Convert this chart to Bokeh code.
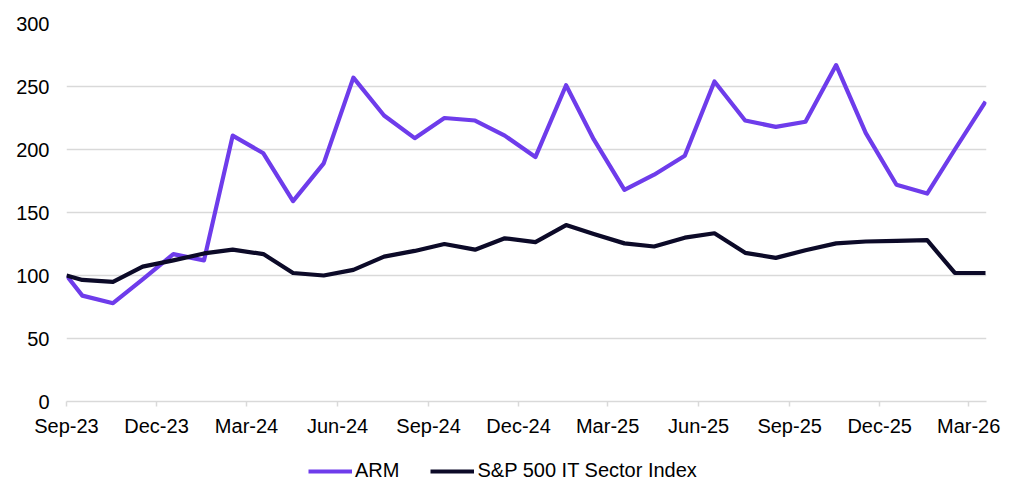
from datetime import datetime
from bokeh.plotting import figure
from bokeh.layouts import column
from bokeh.models import (Legend, LegendItem, FixedTicker, DatetimeTickFormatter,
                          Range1d, ColumnDataSource)
from bokeh.embed import file_html
from bokeh.resources import INLINE

dates = ["2023-09-14", "2023-09-30", "2023-10-31", "2023-11-30", "2023-12-31",
         "2024-01-31", "2024-02-29", "2024-03-31", "2024-04-30", "2024-05-31",
         "2024-06-30", "2024-07-31", "2024-08-31", "2024-09-30", "2024-10-31",
         "2024-11-30", "2024-12-31", "2025-01-31", "2025-02-28", "2025-03-31",
         "2025-04-30", "2025-05-31", "2025-06-30", "2025-07-31", "2025-08-31",
         "2025-09-30", "2025-10-31", "2025-11-30", "2025-12-31", "2026-01-31",
         "2026-02-28", "2026-03-31"]
arm = [100, 84, 78, 97, 117, 112, 211, 197, 159, 189,
       257, 227, 209, 225, 223, 211, 194, 251, 208, 168,
       180, 195, 254, 223, 218, 222, 267, 213, 172, 165,
       200, 238]
spx_it = [100, 96.5, 95, 107, 112, 117.5, 120.5, 117, 102, 100,
          104.5, 115, 119.5, 125, 120.5, 129.5, 126.5, 140, 133, 125.5,
          123, 130, 133.5, 118, 114, 120, 125.5, 127, 127.5, 128,
          102, 102]
tick_dates = ["2023-09-14", "2023-12-14", "2024-03-14", "2024-06-14", "2024-09-14",
              "2024-12-14", "2025-03-14", "2025-06-14", "2025-09-14", "2025-12-14",
              "2026-03-14"]
y_ticks = [0, 50, 100, 150, 200, 250, 300]
series_names = ["ARM", "S&P 500 IT Sector Index"]
colors = ["#6E3CEB", "#0C0A28"]

x = [datetime.strptime(d, "%Y-%m-%d") for d in dates]
src = ColumnDataSource(dict(x=x, arm=arm, spx=spx_it))

def ms(d):
    return datetime.strptime(d, "%Y-%m-%d").timestamp() * 1000.0

FONT = "Liberation Sans"
FS = "20px"
LW = 4.2
x_start, x_end = ms("2023-09-14"), ms("2026-04-01")

p = figure(width=1009, height=440, output_backend="svg", toolbar_location=None,
           x_axis_type="datetime",
           x_range=Range1d(x_start, x_end),
           y_range=Range1d(0, 300),
           min_border_left=66, min_border_right=23, min_border_top=23,
           min_border_bottom=39)
p.outline_line_color = None
p.background_fill_color = "white"
p.border_fill_color = "white"

p.line("x", "arm", source=src, line_color=colors[0], line_width=LW,
       line_join="round")
p.line("x", "spx", source=src, line_color=colors[1], line_width=LW,
       line_join="round")

# x axis
xa = p.xaxis[0]
xa.ticker = FixedTicker(ticks=[ms(d) for d in tick_dates])
fmt = "%b-%y"
xa.formatter = DatetimeTickFormatter(milliseconds=fmt, seconds=fmt, minsec=fmt,
                                     minutes=fmt, hourmin=fmt, hours=fmt, days=fmt,
                                     months=fmt, years=fmt)
xa.axis_line_color = "#D9D9D9"
xa.axis_line_width = 1.5
xa.major_tick_line_color = "#D9D9D9"
xa.major_tick_line_width = 1.5
xa.major_tick_out = 5
xa.major_tick_in = 0
xa.minor_tick_line_color = None
xa.major_label_standoff = 8
xa.major_label_text_font = FONT
xa.major_label_text_font_size = FS
xa.major_label_text_color = "#000000"

# y axis
ya = p.yaxis[0]
ya.ticker = FixedTicker(ticks=y_ticks)
ya.axis_line_color = None
ya.major_tick_line_color = None
ya.minor_tick_line_color = None
ya.major_tick_out = 0
ya.major_label_standoff = 17
ya.major_label_text_font = FONT
ya.major_label_text_font_size = FS
ya.major_label_text_color = "#000000"

p.xgrid.grid_line_color = None
p.ygrid.grid_line_color = "#D9D9D9"
p.ygrid.grid_line_width = 1.5
p.ygrid.ticker = FixedTicker(ticks=y_ticks[1:])

# legend strip below the chart (same series, drawn out of its view; only the legend shows)
lg = figure(width=1009, height=58, output_backend="svg", toolbar_location=None,
            x_axis_location=None, y_axis_location=None,
            x_range=Range1d(x_start, x_end), y_range=Range1d(-20, -10),
            min_border=0, min_border_left=66, min_border_right=23,
            min_border_top=0, min_border_bottom=0)
lg.outline_line_color = None
lg.xgrid.visible = False
lg.ygrid.visible = False
lr1 = lg.line("x", "arm", source=src, line_color=colors[0], line_width=LW)
lr2 = lg.line("x", "spx", source=src, line_color=colors[1], line_width=LW)

legend = Legend(items=[LegendItem(label=series_names[0], renderers=[lr1]),
                       LegendItem(label=series_names[1], renderers=[lr2])],
                orientation="horizontal", location=(242, 16),
                glyph_width=44, glyph_height=20, label_standoff=3, spacing=31,
                padding=0, margin=0, border_line_color=None,
                background_fill_alpha=0,
                label_text_font=FONT, label_text_font_size=FS,
                label_text_color="#000000")
lg.add_layout(legend, "center")

layout = column(p, lg, spacing=0)
open("out.html", "w").write(file_html(layout, INLINE))
